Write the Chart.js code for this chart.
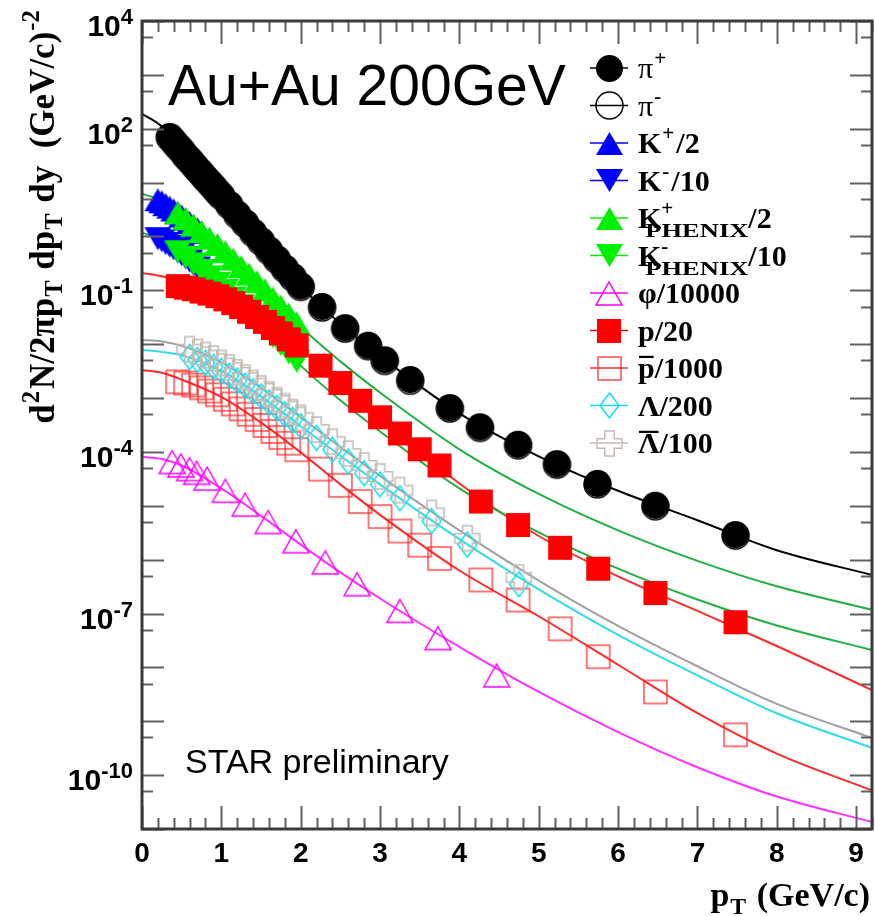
<!DOCTYPE html>
<html>
<head>
<meta charset="utf-8">
<script src="https://cdn.jsdelivr.net/npm/chart.js@4.4.1/dist/chart.umd.min.js"></script>
<style>
  html, body { margin: 0; padding: 0; background: #fff; }
  canvas { display: block; }
</style>
</head>
<body>
<canvas id="spectra" width="875" height="916"></canvas>
<script>
// axis ranges and tick labels
const xRange = [0, 9.2];
const yRange = [1e-11, 1e4];
const xTickLabels = ["0", "1", "2", "3", "4", "5", "6", "7", "8", "9"];
const yLabelExponents = [4, 2, -1, -4, -7, -10];

// pions
const piPt = [0.35, 0.40, 0.45, 0.50, 0.55, 0.60, 0.65, 0.70, 0.75, 0.80, 0.85, 0.90, 0.95, 1.00,
  1.10, 1.20, 1.30, 1.40, 1.50, 1.60, 1.70, 1.80, 1.90, 2.00,
  2.27, 2.56, 2.85, 3.06, 3.38, 3.88, 4.26, 4.74, 5.23, 5.74, 6.47, 7.48];
const piPlusYield = [71, 59, 48, 40, 32, 27, 22, 18, 15, 12.3, 10.2, 8.5, 6.9, 5.75,
  3.9, 2.6, 1.78, 1.2, 0.83, 0.56, 0.38, 0.257, 0.178, 0.120,
  0.050, 0.020, 9.5e-3, 5.1e-3, 2.2e-3, 6.6e-4, 2.9e-4, 1.38e-4, 6.0e-5, 2.6e-5, 1.02e-5, 2.9e-6];
const piMinusYield = [69, 57, 46.5, 39, 31, 26, 21.3, 17.5, 14.5, 11.9, 9.9, 8.2, 6.7, 5.6,
  3.8, 2.5, 1.73, 1.16, 0.80, 0.54, 0.37, 0.25, 0.173, 0.116,
  0.048, 0.0195, 9.2e-3, 4.9e-3, 2.1e-3, 6.4e-4, 2.8e-4, 1.33e-4, 5.8e-5, 2.5e-5, 9.8e-6, 2.8e-6];

// STAR kaons (dE/dx)
const kStarPt = [0.20, 0.25, 0.30, 0.35, 0.40, 0.45, 0.50, 0.55, 0.60, 0.65, 0.70, 0.75];
const kPlusYield = [4.8, 4.4, 3.9, 3.5, 3.1, 2.75, 2.4, 2.1, 1.82, 1.58, 1.38, 1.20];
const kMinusYield = [0.91, 0.83, 0.74, 0.66, 0.59, 0.52, 0.46, 0.40, 0.35, 0.30, 0.26, 0.23];

// PHENIX kaons
const kPhenixPt = [0.45, 0.55, 0.65, 0.75, 0.85, 0.95, 1.05, 1.15, 1.25, 1.35, 1.45, 1.55, 1.65, 1.75, 1.85, 1.95];
const kPlusPhenixYield = [2.75, 2.14, 1.62, 1.23, 0.93, 0.71, 0.52, 0.38, 0.275, 0.20, 0.145, 0.102, 0.072, 0.051, 0.036, 0.025];
const kMinusPhenixYield = [0.52, 0.41, 0.31, 0.234, 0.178, 0.135, 0.100, 0.072, 0.052, 0.038, 0.0275, 0.0195, 0.0138, 0.0098, 0.0069, 0.0048];

// phi
const phiPt = [0.38, 0.49, 0.60, 0.69, 0.82, 1.05, 1.30, 1.59, 1.94, 2.31, 2.71, 3.25, 3.73, 4.47];
const phiYield = [6.5e-5, 5.6e-5, 4.8e-5, 4.1e-5, 3.2e-5, 1.9e-5, 1.05e-5, 5.0e-6, 2.2e-6, 8.9e-7, 3.5e-7, 1.12e-7, 3.5e-8, 7.1e-9];

// protons and antiprotons
const protonPt = [0.45, 0.55, 0.65, 0.75, 0.85, 0.95, 1.05, 1.15, 1.25, 1.35, 1.45, 1.55, 1.65, 1.75, 1.85, 1.95,
  2.25, 2.50, 2.75, 3.00, 3.25, 3.50, 3.75, 4.27, 4.74, 5.27, 5.75, 6.47, 7.48];
const protonYield = [0.120, 0.112, 0.105, 0.095, 0.087, 0.078, 0.068, 0.058, 0.049, 0.040, 0.032, 0.026, 0.020, 0.0158, 0.0123, 0.0095,
  4.0e-3, 1.9e-3, 8.9e-4, 4.4e-4, 2.2e-4, 1.12e-4, 5.6e-5, 1.2e-5, 4.4e-6, 1.66e-6, 6.8e-7, 2.4e-7, 6.9e-8];
const pbarYield = [2.0e-3, 1.9e-3, 1.74e-3, 1.55e-3, 1.35e-3, 1.15e-3, 9.5e-4, 7.8e-4, 6.3e-4, 5.0e-4, 4.0e-4, 3.1e-4, 2.4e-4, 1.86e-4, 1.45e-4, 1.10e-4,
  4.8e-5, 2.4e-5, 1.2e-5, 6.3e-6, 3.4e-6, 1.86e-6, 1.05e-6, 4.2e-7, 1.78e-7, 5.2e-8, 1.58e-8, 3.5e-9, 5.6e-10];

// lambdas
const lambdaPt = [0.6, 0.7, 0.8, 0.9, 1.0, 1.1, 1.2, 1.3, 1.4, 1.5, 1.6, 1.7, 1.8, 1.9, 2.0,
  2.2, 2.4, 2.6, 2.8, 3.0, 3.25, 3.65, 4.1, 4.75];
const lambdaYield = [5.8e-3, 5.1e-3, 4.5e-3, 3.8e-3, 3.2e-3, 2.6e-3, 2.1e-3, 1.7e-3, 1.35e-3, 1.07e-3, 8.3e-4, 6.5e-4, 5.0e-4, 3.9e-4, 3.0e-4,
  1.82e-4, 1.10e-4, 6.6e-5, 4.0e-5, 2.5e-5, 1.38e-5, 5.2e-6, 1.9e-6, 3.5e-7];
const lambdaBarYield = [8.1e-3, 7.2e-3, 6.3e-3, 5.4e-3, 4.5e-3, 3.7e-3, 3.0e-3, 2.4e-3, 1.9e-3, 1.51e-3, 1.17e-3, 9.1e-4, 7.1e-4, 5.5e-4, 4.3e-4,
  2.6e-4, 1.55e-4, 9.3e-5, 5.6e-5, 3.5e-5, 1.95e-5, 7.4e-6, 2.5e-6, 4.7e-7];

// blast-wave fit curves, sampled on a common pT grid
const fitPt = [0, 0.25, 0.5, 1, 1.5, 2, 2.5, 3, 4, 5, 6, 7, 8, 9.2];
const piFit = [190, 110, 40, 5.75, 0.83, 0.12, 2.4e-2, 6.0e-3, 5.2e-4, 8.3e-5, 1.9e-5, 5.4e-6, 1.5e-6, 5.2e-7];
const kPlusFit = [6.2, 4.6, 2.5, 0.66, 0.126, 0.021, 4.8e-3, 1.26e-3, 1.12e-4, 1.66e-5, 3.5e-6, 9.5e-7, 3.2e-7, 1.17e-7];
const kMinusFit = [1.17, 0.87, 0.48, 0.126, 0.024, 4.0e-3, 9.1e-4, 2.4e-4, 2.1e-5, 3.2e-6, 6.8e-7, 1.82e-7, 6.0e-8, 2.1e-8];
const protonFit = [0.209, 0.182, 0.138, 0.072, 0.0295, 8.5e-3, 1.9e-3, 4.4e-4, 2.6e-5, 2.75e-6, 4.9e-7, 1.12e-7, 2.5e-8, 3.8e-9];
const pbarFit = [3.3e-3, 2.95e-3, 2.2e-3, 1.05e-3, 3.5e-4, 9.8e-5, 2.5e-5, 6.8e-6, 6.3e-7, 8.9e-8, 1.12e-8, 1.41e-9, 2.5e-10, 5.2e-11];
const lambdaFit = [7.8e-3, 7.2e-3, 6.2e-3, 3.2e-3, 1.07e-3, 3.0e-4, 8.5e-5, 2.5e-5, 2.4e-6, 2.8e-7, 4.0e-8, 7.1e-9, 1.41e-9, 3.2e-10];
const lambdaBarFit = [1.2e-2, 1.12e-2, 9.3e-3, 4.6e-3, 1.55e-3, 4.4e-4, 1.23e-4, 3.6e-5, 3.5e-6, 4.1e-7, 5.9e-8, 1.05e-8, 2.1e-9, 4.9e-10];
const phiFit = [8.1e-5, 7.4e-5, 5.6e-5, 2.1e-5, 6.5e-6, 1.9e-6, 5.8e-7, 1.9e-7, 2.4e-8, 3.5e-9, 6.3e-10, 1.4e-10, 4.0e-11, 1.35e-11];

const SANS = '"Liberation Sans", Arial, Helvetica, sans-serif';
const SERIF = '"Liberation Serif", "Times New Roman", serif';

// ROOT-like marker glyphs, drawn once into small canvases
function marker(kind, w, h, fill, stroke, lw) {
  const pad = 2;
  const c = document.createElement("canvas");
  c.width = Math.round(w + 2 * pad);
  c.height = Math.round(h + 2 * pad);
  const g = c.getContext("2d");
  const cx = c.width / 2, cy = c.height / 2, a = w / 2, b = h / 2;
  g.beginPath();
  if (kind === "circle") {
    g.arc(cx, cy, a, 0, Math.PI * 2);
  } else if (kind === "up") {
    g.moveTo(cx, cy - b); g.lineTo(cx + a, cy + b); g.lineTo(cx - a, cy + b); g.closePath();
  } else if (kind === "down") {
    g.moveTo(cx, cy + b); g.lineTo(cx + a, cy - b); g.lineTo(cx - a, cy - b); g.closePath();
  } else if (kind === "square") {
    g.rect(cx - a, cy - b, w, h);
  } else if (kind === "diamond") {
    g.moveTo(cx, cy - b); g.lineTo(cx + a, cy); g.lineTo(cx, cy + b); g.lineTo(cx - a, cy); g.closePath();
  } else if (kind === "cross") {
    const t = w * 0.19;
    const pts = [[-t, -b], [t, -b], [t, -t], [a, -t], [a, t], [t, t], [t, b], [-t, b], [-t, t], [-a, t], [-a, -t], [-t, -t]];
    pts.forEach(([px, py], i) => (i ? g.lineTo(cx + px, cy + py) : g.moveTo(cx + px, cy + py)));
    g.closePath();
  }
  if (fill) { g.fillStyle = fill; g.fill(); }
  if (stroke) { g.strokeStyle = stroke; g.lineWidth = lw; g.stroke(); }
  return c;
}

const BLUE = "#0000ff", GREEN = "#00f000", RED = "#ff0000", MAGENTA = "#ff00ff";
const CYAN = "#10e0f0", LGRAY = "#c4bab4";

const mk = {
  piPlus: marker("circle", 27, 27, "#000", null, 0),
  piMinus: marker("circle", 27, 27, null, "#000", 1.5),
  kPlus: marker("up", 27, 23, BLUE, null, 0),
  kMinus: marker("down", 27, 23, BLUE, null, 0),
  kPlusPhenix: marker("up", 27, 23, GREEN, null, 0),
  kMinusPhenix: marker("down", 27, 23, GREEN, null, 0),
  phi: marker("up", 26, 23, null, MAGENTA, 1.5),
  proton: marker("square", 24, 24, RED, null, 0),
  pbar: marker("square", 23, 23, null, "rgba(255,30,30,0.8)", 1.5),
  lambda: marker("diamond", 19, 25, null, CYAN, 1.5),
  lambdaBar: marker("cross", 25, 25, null, LGRAY, 1.5)
};

const pts = (xs, ys) => xs.map((x, i) => ({ x: x, y: ys[i] }));

function points(style, xs, ys) {
  return {
    data: pts(xs, ys),
    pointStyle: mk[style],
    pointRadius: 13,
    showLine: false
  };
}

function fitLine(ys, color) {
  return {
    data: pts(fitPt, ys),
    showLine: true,
    pointRadius: 0,
    borderColor: color,
    borderWidth: 2,
    cubicInterpolationMode: "monotone",
    fill: false
  };
}

// first dataset is painted last (on top)
const datasets = [
  points("piPlus", piPt, piPlusYield),
  points("piMinus", piPt, piMinusYield),
  points("proton", protonPt, protonYield),
  points("kPlusPhenix", kPhenixPt, kPlusPhenixYield),
  points("kMinusPhenix", kPhenixPt, kMinusPhenixYield),
  points("kPlus", kStarPt, kPlusYield),
  points("kMinus", kStarPt, kMinusYield),
  points("lambdaBar", lambdaPt, lambdaBarYield),
  points("lambda", lambdaPt, lambdaYield),
  points("pbar", protonPt, pbarYield),
  points("phi", phiPt, phiYield),
  fitLine(piFit, "#000"),
  fitLine(kPlusFit, "#20b040"),
  fitLine(kMinusFit, "#20b040"),
  fitLine(protonFit, "#ff2a2a"),
  fitLine(lambdaBarFit, "#a0a0a0"),
  fitLine(lambdaFit, "#30dce8"),
  fitLine(pbarFit, "#ff2a2a"),
  fitLine(phiFit, "#ff30ff")
];

// text with super/subscripts, bars and stacked K^{+}_{PHENIX}
function rich(ctx, parts, x, y, size, fam, draw) {
  let cx = x;
  for (const [t, mode] of parts) {
    if (mode === "supsub") {
      ctx.font = `bold ${size * 0.7}px ${fam}`;
      const w1 = ctx.measureText(t[0]).width;
      if (draw) ctx.fillText(t[0], cx, y - size * 0.42);
      // subscript is set small and stretched wide
      ctx.font = `bold ${size * 0.64}px ${fam}`;
      const raw = ctx.measureText(t[1]).width;
      const target = 103;
      if (draw) {
        ctx.save();
        ctx.translate(cx - 16, y + size * 0.3);
        ctx.scale(target / raw, 1);
        ctx.fillText(t[1], 0, 0);
        ctx.restore();
      }
      cx += Math.max(w1, target - 16);
      continue;
    }
    const small = mode === "sup" || mode === "sub";
    const fs = small ? size * 0.7 : size;
    ctx.font = `${mode === "thin" ? "" : "bold "}${fs}px ${fam}`;
    const w = ctx.measureText(t).width;
    if (draw) {
      let dy = 0;
      if (mode === "sup") dy = -size * 0.42;
      if (mode === "sub") dy = size * 0.24;
      ctx.fillText(t, cx + (small ? 1 : 0), y + dy);
      if (mode === "bar") {
        ctx.fillRect(cx + 1, y - size * 0.74, w - 2, 2.2);
      }
    }
    cx += w + (small ? 3 : 0);
  }
  return cx - x;
}

const legendRows = [
  { m: "piPlus", c: "#000", parts: [["π", "thin"], ["+", "sup"]] },
  { m: "piMinus", c: "#000", parts: [["π", "thin"], ["-", "sup"]] },
  { m: "kPlus", c: BLUE, parts: [["K", "n"], ["+", "sup"], ["/2", "n"]] },
  { m: "kMinus", c: BLUE, parts: [["K", "n"], ["-", "sup"], ["/10", "n"]] },
  { m: "kPlusPhenix", c: GREEN, parts: [["K", "n"], [["+", "PHENIX"], "supsub"], ["/2", "n"]] },
  { m: "kMinusPhenix", c: GREEN, parts: [["K", "n"], [["-", "PHENIX"], "supsub"], ["/10", "n"]] },
  { m: "phi", c: MAGENTA, parts: [["φ/10000", "n"]] },
  { m: "proton", c: RED, parts: [["p/20", "n"]] },
  { m: "pbar", c: "#ff3030", parts: [["p", "bar"], ["/1000", "n"]] },
  { m: "lambda", c: CYAN, parts: [["Λ/200", "n"]] },
  { m: "lambdaBar", c: LGRAY, parts: [["Λ", "bar"], ["/100", "n"]] }
];

const rootFrame = {
  id: "rootFrame",
  afterDatasetsDraw(chart) {
    const ctx = chart.ctx;
    const a = chart.chartArea;
    const xs = chart.scales.x, ys = chart.scales.y;
    ctx.save();
    // ticks on all four sides, pointing inward
    ctx.strokeStyle = "#606060";
    ctx.lineWidth = 2;
    ctx.beginPath();
    for (let i = 0; i <= 46; i++) {
      const v = i * 0.2;
      const px = Math.round(xs.getPixelForValue(v)) + 0.5;
      const len = i % 5 === 0 ? 23 : 11;
      ctx.moveTo(px, a.bottom); ctx.lineTo(px, a.bottom - len);
      ctx.moveTo(px, a.top); ctx.lineTo(px, a.top + len);
    }
    for (let n = -11; n <= 4; n++) {
      const py = Math.round(ys.getPixelForValue(Math.pow(10, n))) + 0.5;
      ctx.moveTo(a.left, py); ctx.lineTo(a.left + 22, py);
      ctx.moveTo(a.right, py); ctx.lineTo(a.right - 22, py);
      if (n > -11) {
        const pm = Math.round(ys.getPixelForValue(5 * Math.pow(10, n - 1))) + 0.5;
        ctx.moveTo(a.left, pm); ctx.lineTo(a.left + 11, pm);
        ctx.moveTo(a.right, pm); ctx.lineTo(a.right - 11, pm);
      }
    }
    ctx.stroke();
    // frame
    ctx.strokeStyle = "#3a3a3a";
    ctx.lineWidth = 3;
    ctx.strokeRect(a.left, a.top, a.right - a.left, a.bottom - a.top);
    ctx.restore();
  },
  afterDraw(chart) {
    const ctx = chart.ctx;
    const xs = chart.scales.x, ys = chart.scales.y;
    ctx.save();
    ctx.fillStyle = "#000";
    ctx.textBaseline = "alphabetic";

    // x tick labels
    ctx.font = `bold 28px ${SANS}`;
    ctx.textAlign = "center";
    xTickLabels.forEach((t, i) => ctx.fillText(t, xs.getPixelForValue(i), 862));

    // y tick labels 10^n
    ctx.textAlign = "left";
    yLabelExponents.forEach((e) => {
      const py = ys.getPixelForValue(Math.pow(10, e));
      const ex = String(e);
      ctx.font = `bold 22px ${SANS}`;
      const we = ctx.measureText(ex).width;
      ctx.font = `bold 30px ${SANS}`;
      const wb = ctx.measureText("10").width;
      const right = 133;
      ctx.fillText("10", right - we - wb, py + 15);
      ctx.font = `bold 22px ${SANS}`;
      ctx.fillText(ex, right - we, py + 3);
    });

    // axis titles
    const xTitle = [["p", "n"], ["T", "sub"], [" (GeV/c)", "n"]];
    const wx = rich(ctx, xTitle, 0, 0, 34, SERIF, false);
    rich(ctx, xTitle, 870 - wx, 906, 34, SERIF, true);

    const yTitle = [["d", "n"], ["2", "sup"], ["N/2πp", "n"], ["T", "sub"], [" dp", "n"], ["T", "sub"],
      [" dy  (GeV/c)", "n"], ["-2", "sup"]];
    const wy = rich(ctx, yTitle, 0, 0, 35, SERIF, false);
    ctx.save();
    ctx.translate(54, 216 + wy / 2);
    ctx.rotate(-Math.PI / 2);
    rich(ctx, yTitle, 0, 0, 35, SERIF, true);
    ctx.restore();

    // in-plot annotations
    ctx.font = `57px ${SANS}`;
    ctx.fillText("Au+Au 200GeV", 168, 105);
    ctx.font = `34px ${SANS}`;
    ctx.fillText("STAR preliminary", 185, 773);

    // legend
    legendRows.forEach((row, i) => {
      const ry = 68 + i * 37.5;
      ctx.strokeStyle = row.c;
      ctx.lineWidth = 1.5;
      ctx.beginPath();
      ctx.moveTo(590, ry); ctx.lineTo(628, ry);
      ctx.stroke();
      const img = mk[row.m];
      ctx.drawImage(img, Math.round(609 - img.width / 2), Math.round(ry - img.height / 2));
      ctx.fillStyle = "#000";
      rich(ctx, row.parts, 638, ry + 10, 30, SERIF, true);
    });
    ctx.restore();
  }
};

new Chart(document.getElementById("spectra"), {
  type: "scatter",
  data: { datasets: datasets },
  options: {
    responsive: false,
    animation: false,
    layout: { autoPadding: false, padding: { left: 142, right: 3, top: 21, bottom: 87 } },
    scales: {
      x: { type: "linear", min: xRange[0], max: xRange[1], display: false },
      y: { type: "logarithmic", min: yRange[0], max: yRange[1], display: false }
    },
    plugins: { legend: { display: false }, tooltip: { enabled: false } }
  },
  plugins: [rootFrame]
});
</script>
</body>
</html>
